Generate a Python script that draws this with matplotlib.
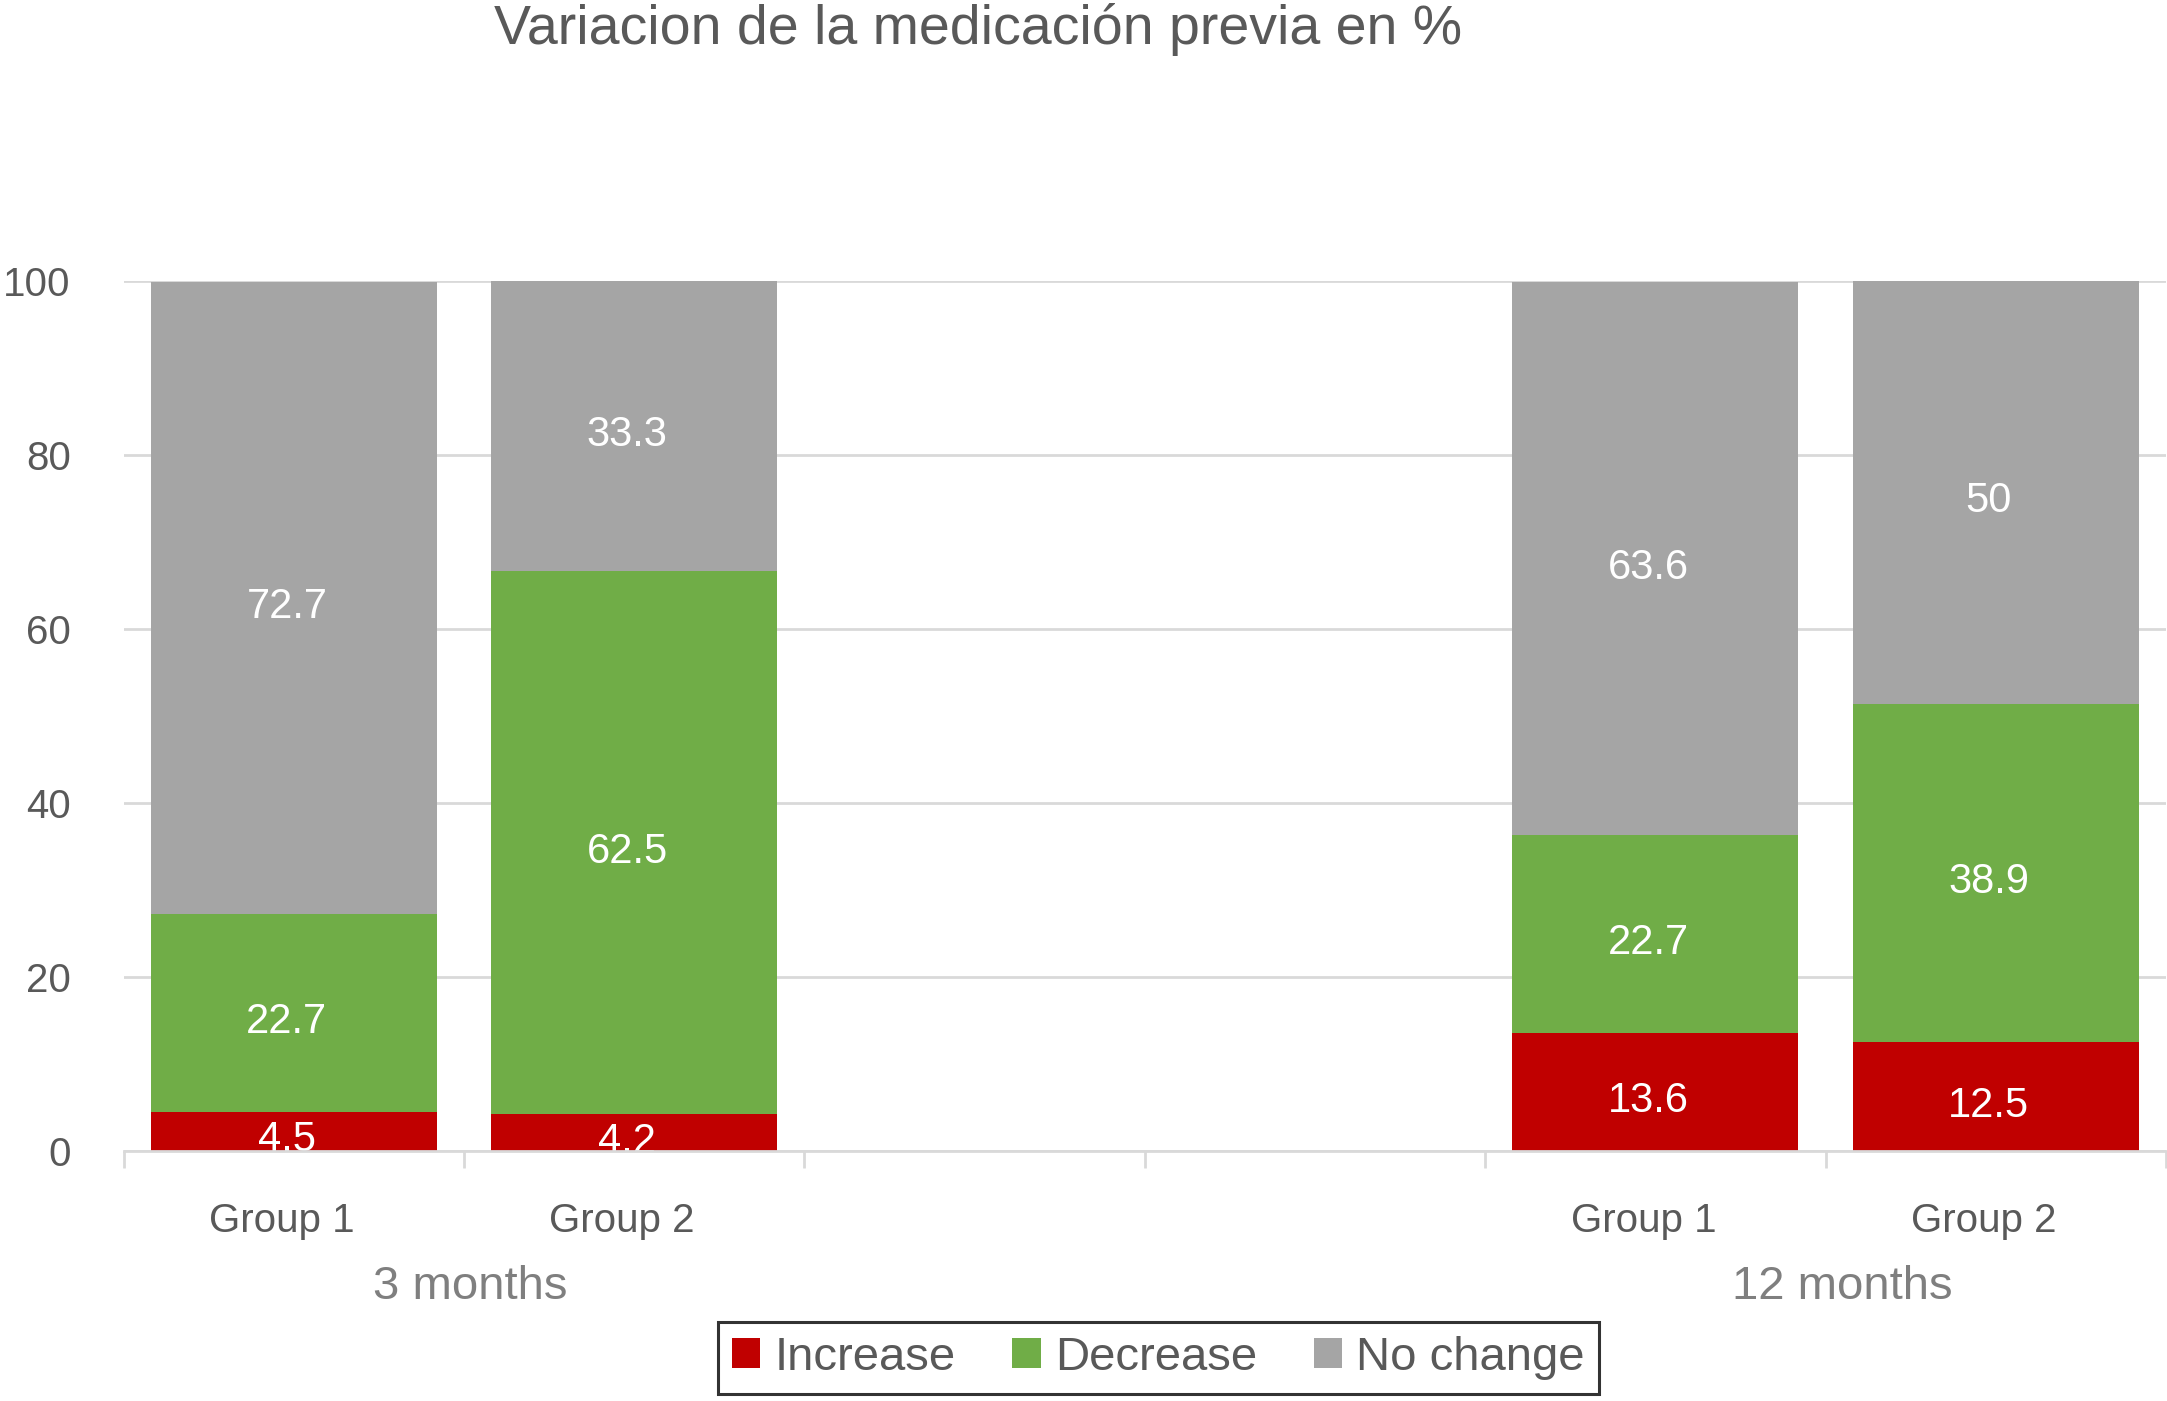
import matplotlib
matplotlib.use('Agg')
import matplotlib.pyplot as plt
from matplotlib.patches import Patch
import matplotlib.transforms as mtransforms

plt.rcParams['font.family'] = ['Liberation Sans', 'DejaVu Sans']

# datos
groups = ['Group 1', 'Group 2', '', '', 'Group 1', 'Group 2']
periods = ['3 months', '12 months']
increase = [4.5, 4.2, None, None, 13.6, 12.5]
decrease = [22.7, 62.5, None, None, 22.7, 38.9]
no_change = [72.7, 33.3, None, None, 63.6, 50]
series_names = ['Increase', 'Decrease', 'No change']
colors = ['#C00000', '#70AD47', '#A5A5A5']
text_gray = '#595959'
grid_gray = '#D9D9D9'

fig = plt.figure(figsize=(21.67, 14.01), dpi=100)
ax = fig.add_axes([0.057, 0.1785, 0.9425, 0.6209])

# etiquetas un poco mas abajo, como en Excel
lbl_off = ax.transData + mtransforms.ScaledTranslation(0, -0.09, fig.dpi_scale_trans)

x_pos = [i for i, v in enumerate(increase) if v is not None]
series = [increase, decrease, no_change]
bottoms = {i: 0.0 for i in x_pos}
for vals, c in zip(series, colors):
    for i in x_pos:
        v = vals[i]
        ax.bar(i, v, bottom=bottoms[i], width=0.84, color=c, zorder=2)
        lo = bottoms[i]
        hi = min(bottoms[i] + v, 100)
        ax.text(i - 0.02, (lo + hi) / 2, f'{v:g}', ha='center', va='center',
                color='white', fontsize=30, zorder=3, clip_on=True,
                transform=lbl_off)
        bottoms[i] += v

ax.set_xlim(-0.5, 5.5)
ax.set_ylim(0, 100)
ax.set_yticks(range(0, 101, 20))
ax.yaxis.grid(True, color=grid_gray, linewidth=2, zorder=0)
ax.set_axisbelow(True)
ax.tick_params(axis='y', length=0, pad=38, labelsize=29, labelcolor=text_gray)

ax.set_xticks([i - 0.5 for i in range(7)])
ax.set_xticklabels([])
ax.tick_params(axis='x', length=12, width=2, color=grid_gray)

for s in ['top', 'right', 'left']:
    ax.spines[s].set_visible(False)
ax.spines['bottom'].set_color(grid_gray)
ax.spines['bottom'].set_linewidth(2)
ax.spines['bottom'].set_zorder(4)

trans = mtransforms.blended_transform_factory(ax.transData, fig.transFigure)
for i, g in enumerate(groups):
    if g:
        ax.text(i - 0.035, 1 - 1221 / 1401, g, transform=trans, ha='center', va='center',
                fontsize=29, color=text_gray)
for p, xc in zip(periods, [0.52, 4.55]):
    ax.text(xc, 1 - 1287 / 1401, p, transform=trans, ha='center', va='center',
            fontsize=34, color='#7F7F7F')

fig.text(978 / 2167, 1 - 30 / 1401, 'Variacion de la medicación previa en %',
         ha='center', va='center', fontsize=40, color=text_gray)

handles = [Patch(facecolor=c, label=n) for c, n in zip(colors, series_names)]
leg = fig.legend(handles=handles, loc='center', bbox_to_anchor=(0.5345, 0.0307),
                 ncol=3, fontsize=34, frameon=True, fancybox=False,
                 handlelength=0.6, handleheight=0.6, handletextpad=0.3,
                 columnspacing=1.2, borderpad=0.3, borderaxespad=0)
leg.get_frame().set_edgecolor('black')
leg.get_frame().set_linewidth(2.2)
for t in leg.get_texts():
    t.set_color(text_gray)

fig.savefig('out.png', dpi=100)
